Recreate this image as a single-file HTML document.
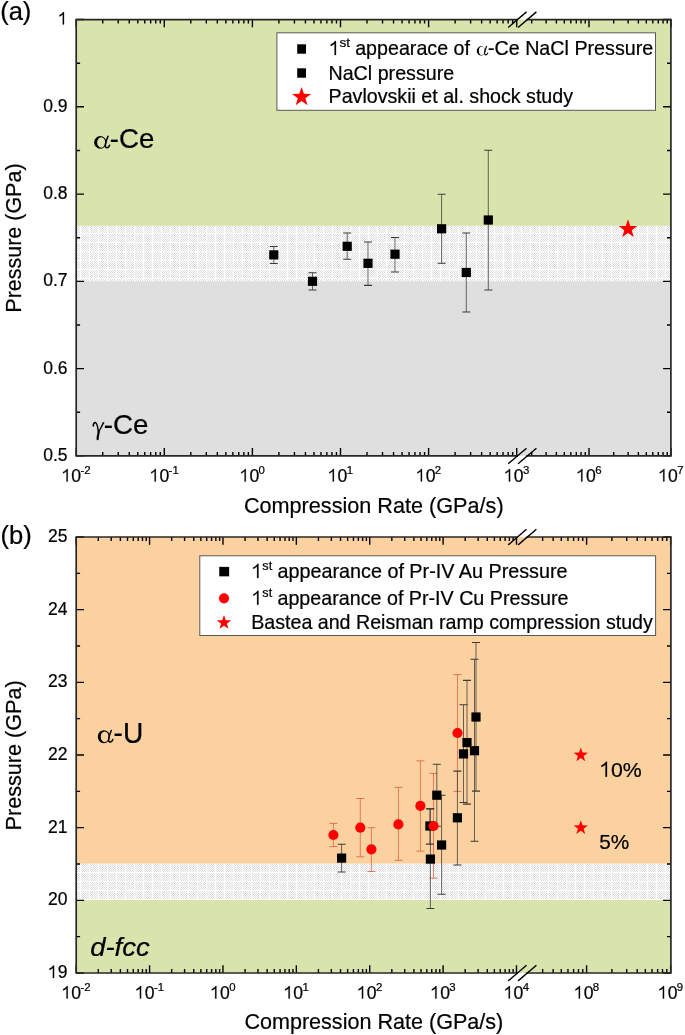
<!DOCTYPE html>
<html><head><meta charset="utf-8"><style>
html,body{margin:0;padding:0;background:#fff;width:685px;height:1035px;overflow:hidden;}
svg{display:block;will-change:transform;}
text{stroke:#000;stroke-width:0.22px;}
</style></head><body>
<svg width="685" height="1035" viewBox="0 0 685 1035" font-family="'Liberation Sans', sans-serif" fill="#000">
<defs><pattern id="hatch" width="9" height="9" patternUnits="userSpaceOnUse">
<rect width="9" height="9" fill="#fff"/>
<path d="M0 0h1v1h-1zM2 0h1v1h-1zM4 0h1v1h-1zM6 0h1v1h-1zM1 1h1v1h-1zM3 1h1v1h-1zM5 1h1v1h-1zM7 1h1v1h-1zM0 2h1v1h-1zM2 2h1v1h-1zM4 2h1v1h-1zM6 2h1v1h-1zM1 3h1v1h-1zM3 3h1v1h-1zM5 3h1v1h-1zM7 3h1v1h-1zM0 4h1v1h-1zM2 4h1v1h-1zM4 4h1v1h-1zM6 4h1v1h-1zM1 5h1v1h-1zM3 5h1v1h-1zM5 5h1v1h-1zM7 5h1v1h-1zM0 6h1v1h-1zM2 6h1v1h-1zM4 6h1v1h-1zM6 6h1v1h-1zM1 7h1v1h-1zM3 7h1v1h-1zM5 7h1v1h-1zM7 7h1v1h-1z" fill="#dddddd"/>
</pattern>
<path id="one" stroke="#000" stroke-width="0.013" d="M0.28 0H0.352V-0.716H0.305C0.26 -0.637 0.175 -0.577 0.085 -0.537V-0.458C0.155 -0.486 0.23 -0.532 0.28 -0.578Z"/></defs>
<rect x="76.2" y="19.55" width="594.70" height="206.35" fill="#d9e4ad"/>
<rect x="76.2" y="225.9" width="594.70" height="55.40" fill="url(#hatch)"/>
<rect x="76.2" y="281.3" width="594.70" height="174.60" fill="#dfdfdf"/>
<rect x="76.2" y="537.0" width="594.70" height="326.80" fill="#fbd29f"/>
<rect x="76.2" y="863.8" width="594.70" height="36.20" fill="url(#hatch)"/>
<rect x="76.2" y="900.0" width="594.70" height="73.00" fill="#d9e4ad"/>
<path d="M273.80 246.50V263.50" stroke="#3a3a3a" stroke-width="0.77" fill="none"/><path d="M269.80 246.50h8M269.80 263.50h8" stroke="#3a3a3a" stroke-width="1.08" fill="none"/>
<path d="M312.50 272.80V290.00" stroke="#3a3a3a" stroke-width="0.77" fill="none"/><path d="M308.50 272.80h8M308.50 290.00h8" stroke="#3a3a3a" stroke-width="1.08" fill="none"/>
<path d="M347.20 233.00V259.20" stroke="#3a3a3a" stroke-width="0.77" fill="none"/><path d="M343.20 233.00h8M343.20 259.20h8" stroke="#3a3a3a" stroke-width="1.08" fill="none"/>
<path d="M368.00 242.00V285.40" stroke="#3a3a3a" stroke-width="0.77" fill="none"/><path d="M364.00 242.00h8M364.00 285.40h8" stroke="#3a3a3a" stroke-width="1.08" fill="none"/>
<path d="M395.00 237.50V272.00" stroke="#3a3a3a" stroke-width="0.77" fill="none"/><path d="M391.00 237.50h8M391.00 272.00h8" stroke="#3a3a3a" stroke-width="1.08" fill="none"/>
<path d="M441.60 194.30V263.30" stroke="#3a3a3a" stroke-width="0.77" fill="none"/><path d="M437.60 194.30h8M437.60 263.30h8" stroke="#3a3a3a" stroke-width="1.08" fill="none"/>
<path d="M466.30 233.00V312.00" stroke="#3a3a3a" stroke-width="0.77" fill="none"/><path d="M462.30 233.00h8M462.30 312.00h8" stroke="#3a3a3a" stroke-width="1.08" fill="none"/>
<path d="M488.30 150.20V290.00" stroke="#3a3a3a" stroke-width="0.77" fill="none"/><path d="M484.30 150.20h8M484.30 290.00h8" stroke="#3a3a3a" stroke-width="1.08" fill="none"/>
<rect x="269.20" y="250.30" width="9.2" height="9.2" fill="#000"/>
<rect x="307.90" y="276.70" width="9.2" height="9.2" fill="#000"/>
<rect x="342.60" y="241.70" width="9.2" height="9.2" fill="#000"/>
<rect x="363.40" y="258.70" width="9.2" height="9.2" fill="#000"/>
<rect x="390.40" y="249.60" width="9.2" height="9.2" fill="#000"/>
<rect x="437.00" y="224.20" width="9.2" height="9.2" fill="#000"/>
<rect x="461.70" y="267.90" width="9.2" height="9.2" fill="#000"/>
<rect x="483.70" y="215.40" width="9.2" height="9.2" fill="#000"/>
<polygon points="628.00,219.30 630.30,225.93 637.32,226.07 631.73,230.31 633.76,237.03 628.00,233.02 622.24,237.03 624.27,230.31 618.68,226.07 625.70,225.93" fill="#f00"/>
<path d="M333.40 823.40V846.60" stroke="#de5038" stroke-width="0.68" fill="none"/><path d="M329.40 823.40h8M329.40 846.60h8" stroke="#de5038" stroke-width="0.75" fill="none"/>
<path d="M360.30 798.50V856.90" stroke="#de5038" stroke-width="0.68" fill="none"/><path d="M356.30 798.50h8M356.30 856.90h8" stroke="#de5038" stroke-width="0.75" fill="none"/>
<path d="M371.40 827.70V871.50" stroke="#de5038" stroke-width="0.68" fill="none"/><path d="M367.40 827.70h8M367.40 871.50h8" stroke="#de5038" stroke-width="0.75" fill="none"/>
<path d="M398.40 787.40V860.30" stroke="#de5038" stroke-width="0.68" fill="none"/><path d="M394.40 787.40h8M394.40 860.30h8" stroke="#de5038" stroke-width="0.75" fill="none"/>
<path d="M420.40 760.90V851.10" stroke="#de5038" stroke-width="0.68" fill="none"/><path d="M416.40 760.90h8M416.40 851.10h8" stroke="#de5038" stroke-width="0.75" fill="none"/>
<path d="M433.50 773.40V878.10" stroke="#de5038" stroke-width="0.68" fill="none"/><path d="M429.50 773.40h8M429.50 878.10h8" stroke="#de5038" stroke-width="0.75" fill="none"/>
<path d="M457.50 674.60V791.40" stroke="#de5038" stroke-width="0.68" fill="none"/><path d="M453.50 674.60h8M453.50 791.40h8" stroke="#de5038" stroke-width="0.75" fill="none"/>
<path d="M341.60 844.20V872.00" stroke="#3a3a3a" stroke-width="0.77" fill="none"/><path d="M337.60 844.20h8M337.60 872.00h8" stroke="#3a3a3a" stroke-width="1.08" fill="none"/>
<path d="M429.90 808.70V844.10" stroke="#3a3a3a" stroke-width="0.77" fill="none"/><path d="M425.90 808.70h8M425.90 844.10h8" stroke="#3a3a3a" stroke-width="1.08" fill="none"/>
<path d="M430.40 808.90V908.50" stroke="#3a3a3a" stroke-width="0.77" fill="none"/><path d="M426.40 808.90h8M426.40 908.50h8" stroke="#3a3a3a" stroke-width="1.08" fill="none"/>
<path d="M436.80 764.20V826.20" stroke="#3a3a3a" stroke-width="0.77" fill="none"/><path d="M432.80 764.20h8M432.80 826.20h8" stroke="#3a3a3a" stroke-width="1.08" fill="none"/>
<path d="M441.60 795.30V894.30" stroke="#3a3a3a" stroke-width="0.77" fill="none"/><path d="M437.60 795.30h8M437.60 894.30h8" stroke="#3a3a3a" stroke-width="1.08" fill="none"/>
<path d="M457.40 771.10V865.00" stroke="#3a3a3a" stroke-width="0.77" fill="none"/><path d="M453.40 771.10h8M453.40 865.00h8" stroke="#3a3a3a" stroke-width="1.08" fill="none"/>
<path d="M463.50 704.80V802.50" stroke="#3a3a3a" stroke-width="0.77" fill="none"/><path d="M459.50 704.80h8M459.50 802.50h8" stroke="#3a3a3a" stroke-width="1.08" fill="none"/>
<path d="M467.00 680.40V804.10" stroke="#3a3a3a" stroke-width="0.77" fill="none"/><path d="M463.00 680.40h8M463.00 804.10h8" stroke="#3a3a3a" stroke-width="1.08" fill="none"/>
<path d="M474.50 659.30V841.30" stroke="#3a3a3a" stroke-width="0.77" fill="none"/><path d="M470.50 659.30h8M470.50 841.30h8" stroke="#3a3a3a" stroke-width="1.08" fill="none"/>
<path d="M476.00 642.50V791.10" stroke="#3a3a3a" stroke-width="0.77" fill="none"/><path d="M472.00 642.50h8M472.00 791.10h8" stroke="#3a3a3a" stroke-width="1.08" fill="none"/>
<rect x="337.00" y="853.50" width="9.2" height="9.2" fill="#000"/>
<rect x="425.30" y="821.40" width="9.2" height="9.2" fill="#000"/>
<rect x="425.80" y="854.50" width="9.2" height="9.2" fill="#000"/>
<rect x="432.20" y="790.60" width="9.2" height="9.2" fill="#000"/>
<rect x="437.00" y="840.40" width="9.2" height="9.2" fill="#000"/>
<rect x="452.80" y="813.20" width="9.2" height="9.2" fill="#000"/>
<rect x="458.90" y="749.30" width="9.2" height="9.2" fill="#000"/>
<rect x="462.40" y="738.00" width="9.2" height="9.2" fill="#000"/>
<rect x="469.90" y="746.10" width="9.2" height="9.2" fill="#000"/>
<rect x="471.40" y="712.40" width="9.2" height="9.2" fill="#000"/>
<circle cx="333.4" cy="835.0" r="5.1" fill="#f00"/>
<circle cx="360.3" cy="827.7" r="5.1" fill="#f00"/>
<circle cx="371.4" cy="849.3" r="5.1" fill="#f00"/>
<circle cx="398.4" cy="824.4" r="5.1" fill="#f00"/>
<circle cx="420.4" cy="805.8" r="5.1" fill="#f00"/>
<circle cx="433.5" cy="826.0" r="5.1" fill="#f00"/>
<circle cx="457.5" cy="733.0" r="5.1" fill="#f00"/>
<polygon points="580.80,747.50 582.58,752.61 587.98,752.72 583.67,755.98 585.24,761.16 580.80,758.07 576.36,761.16 577.93,755.98 573.62,752.72 579.02,752.61" fill="#f00"/>
<polygon points="580.80,820.25 582.58,825.36 587.98,825.47 583.67,828.73 585.24,833.91 580.80,830.82 576.36,833.91 577.93,828.73 573.62,825.47 579.02,825.36" fill="#f00"/>
<path d="M76.20 455.90V448.10M76.20 19.55V27.35M102.72 455.90V452.00M102.72 19.55V23.45M118.23 455.90V452.00M118.23 19.55V23.45M129.24 455.90V452.00M129.24 19.55V23.45M137.78 455.90V452.00M137.78 19.55V23.45M144.76 455.90V452.00M144.76 19.55V23.45M150.65 455.90V452.00M150.65 19.55V23.45M155.76 455.90V452.00M155.76 19.55V23.45M160.27 455.90V452.00M160.27 19.55V23.45M164.30 455.90V448.10M164.30 19.55V27.35M190.82 455.90V452.00M190.82 19.55V23.45M206.33 455.90V452.00M206.33 19.55V23.45M217.34 455.90V452.00M217.34 19.55V23.45M225.88 455.90V452.00M225.88 19.55V23.45M232.86 455.90V452.00M232.86 19.55V23.45M238.75 455.90V452.00M238.75 19.55V23.45M243.86 455.90V452.00M243.86 19.55V23.45M248.37 455.90V452.00M248.37 19.55V23.45M252.40 455.90V448.10M252.40 19.55V27.35M278.92 455.90V452.00M278.92 19.55V23.45M294.43 455.90V452.00M294.43 19.55V23.45M305.44 455.90V452.00M305.44 19.55V23.45M313.98 455.90V452.00M313.98 19.55V23.45M320.96 455.90V452.00M320.96 19.55V23.45M326.85 455.90V452.00M326.85 19.55V23.45M331.96 455.90V452.00M331.96 19.55V23.45M336.47 455.90V452.00M336.47 19.55V23.45M340.50 455.90V448.10M340.50 19.55V27.35M367.02 455.90V452.00M367.02 19.55V23.45M382.53 455.90V452.00M382.53 19.55V23.45M393.54 455.90V452.00M393.54 19.55V23.45M402.08 455.90V452.00M402.08 19.55V23.45M409.06 455.90V452.00M409.06 19.55V23.45M414.95 455.90V452.00M414.95 19.55V23.45M420.06 455.90V452.00M420.06 19.55V23.45M424.57 455.90V452.00M424.57 19.55V23.45M428.60 455.90V448.10M428.60 19.55V27.35M455.12 455.90V452.00M455.12 19.55V23.45M470.63 455.90V452.00M470.63 19.55V23.45M481.64 455.90V452.00M481.64 19.55V23.45M490.18 455.90V452.00M490.18 19.55V23.45M497.16 455.90V452.00M497.16 19.55V23.45M503.05 455.90V452.00M503.05 19.55V23.45M508.16 455.90V452.00M508.16 19.55V23.45M512.67 455.90V452.00M512.67 19.55V23.45M516.70 455.90V448.10M516.70 19.55V27.35M531.68 455.90V452.00M531.68 19.55V23.45M546.12 455.90V452.00M546.12 19.55V23.45M556.37 455.90V452.00M556.37 19.55V23.45M564.32 455.90V452.00M564.32 19.55V23.45M570.81 455.90V452.00M570.81 19.55V23.45M576.30 455.90V452.00M576.30 19.55V23.45M581.05 455.90V452.00M581.05 19.55V23.45M585.25 455.90V452.00M585.25 19.55V23.45M589.00 455.90V448.10M589.00 19.55V27.35M613.68 455.90V452.00M613.68 19.55V23.45M628.12 455.90V452.00M628.12 19.55V23.45M638.37 455.90V452.00M638.37 19.55V23.45M646.32 455.90V452.00M646.32 19.55V23.45M652.81 455.90V452.00M652.81 19.55V23.45M658.30 455.90V452.00M658.30 19.55V23.45M663.05 455.90V452.00M663.05 19.55V23.45M667.25 455.90V452.00M667.25 19.55V23.45M671.00 455.90V448.10M671.00 19.55V27.35M76.20 455.90H84.00M670.90 455.90H663.10M76.20 412.26H80.10M670.90 412.26H667.00M76.20 368.63H84.00M670.90 368.63H663.10M76.20 324.99H80.10M670.90 324.99H667.00M76.20 281.36H84.00M670.90 281.36H663.10M76.20 237.72H80.10M670.90 237.72H667.00M76.20 194.09H84.00M670.90 194.09H663.10M76.20 150.45H80.10M670.90 150.45H667.00M76.20 106.82H84.00M670.90 106.82H663.10M76.20 63.18H80.10M670.90 63.18H667.00M76.20 19.55H84.00M670.90 19.55H663.10" stroke="#000" stroke-width="1.4" fill="none"/>
<path d="M517.2 19.55H76.2V455.9H517.2M527.2 455.9H670.9V19.55H527.2" stroke="#282828" stroke-width="1.7" fill="none" stroke-linecap="square"/>
<line x1="508.2" y1="27.5" x2="526.5" y2="11.9" stroke="#000" stroke-width="1.4"/>
<line x1="518.1" y1="27.5" x2="536.4" y2="11.9" stroke="#000" stroke-width="1.4"/>
<line x1="508.2" y1="463.8" x2="526.5" y2="448.2" stroke="#000" stroke-width="1.4"/>
<line x1="518.1" y1="463.8" x2="536.4" y2="448.2" stroke="#000" stroke-width="1.4"/>
<path d="M76.20 973.00V965.20M76.20 537.00V544.80M98.29 973.00V969.10M98.29 537.00V540.90M111.21 973.00V969.10M111.21 537.00V540.90M120.38 973.00V969.10M120.38 537.00V540.90M127.49 973.00V969.10M127.49 537.00V540.90M133.30 973.00V969.10M133.30 537.00V540.90M138.21 973.00V969.10M138.21 537.00V540.90M142.47 973.00V969.10M142.47 537.00V540.90M146.22 973.00V969.10M146.22 537.00V540.90M149.58 973.00V965.20M149.58 537.00V544.80M171.67 973.00V969.10M171.67 537.00V540.90M184.59 973.00V969.10M184.59 537.00V540.90M193.76 973.00V969.10M193.76 537.00V540.90M200.87 973.00V969.10M200.87 537.00V540.90M206.68 973.00V969.10M206.68 537.00V540.90M211.59 973.00V969.10M211.59 537.00V540.90M215.85 973.00V969.10M215.85 537.00V540.90M219.60 973.00V969.10M219.60 537.00V540.90M222.96 973.00V965.20M222.96 537.00V544.80M245.05 973.00V969.10M245.05 537.00V540.90M257.97 973.00V969.10M257.97 537.00V540.90M267.14 973.00V969.10M267.14 537.00V540.90M274.25 973.00V969.10M274.25 537.00V540.90M280.06 973.00V969.10M280.06 537.00V540.90M284.97 973.00V969.10M284.97 537.00V540.90M289.23 973.00V969.10M289.23 537.00V540.90M292.98 973.00V969.10M292.98 537.00V540.90M296.34 973.00V965.20M296.34 537.00V544.80M318.43 973.00V969.10M318.43 537.00V540.90M331.35 973.00V969.10M331.35 537.00V540.90M340.52 973.00V969.10M340.52 537.00V540.90M347.63 973.00V969.10M347.63 537.00V540.90M353.44 973.00V969.10M353.44 537.00V540.90M358.35 973.00V969.10M358.35 537.00V540.90M362.61 973.00V969.10M362.61 537.00V540.90M366.36 973.00V969.10M366.36 537.00V540.90M369.72 973.00V965.20M369.72 537.00V544.80M391.81 973.00V969.10M391.81 537.00V540.90M404.73 973.00V969.10M404.73 537.00V540.90M413.90 973.00V969.10M413.90 537.00V540.90M421.01 973.00V969.10M421.01 537.00V540.90M426.82 973.00V969.10M426.82 537.00V540.90M431.73 973.00V969.10M431.73 537.00V540.90M435.99 973.00V969.10M435.99 537.00V540.90M439.74 973.00V969.10M439.74 537.00V540.90M443.10 973.00V965.20M443.10 537.00V544.80M465.19 973.00V969.10M465.19 537.00V540.90M478.11 973.00V969.10M478.11 537.00V540.90M487.28 973.00V969.10M487.28 537.00V540.90M494.39 973.00V969.10M494.39 537.00V540.90M500.20 973.00V969.10M500.20 537.00V540.90M505.11 973.00V969.10M505.11 537.00V540.90M509.37 973.00V969.10M509.37 537.00V540.90M513.12 973.00V969.10M513.12 537.00V540.90M516.48 973.00V965.20M516.48 537.00V544.80M542.65 973.00V969.10M542.65 537.00V540.90M553.15 973.00V969.10M553.15 537.00V540.90M561.30 973.00V969.10M561.30 537.00V540.90M567.95 973.00V969.10M567.95 537.00V540.90M573.58 973.00V969.10M573.58 537.00V540.90M578.45 973.00V969.10M578.45 537.00V540.90M582.75 973.00V969.10M582.75 537.00V540.90M586.60 973.00V965.20M586.60 537.00V544.80M611.90 973.00V969.10M611.90 537.00V540.90M626.70 973.00V969.10M626.70 537.00V540.90M637.20 973.00V969.10M637.20 537.00V540.90M645.35 973.00V969.10M645.35 537.00V540.90M652.00 973.00V969.10M652.00 537.00V540.90M657.63 973.00V969.10M657.63 537.00V540.90M662.50 973.00V969.10M662.50 537.00V540.90M666.80 973.00V969.10M666.80 537.00V540.90M670.65 973.00V965.20M670.65 537.00V544.80M76.20 973.00H84.00M670.90 973.00H663.10M76.20 936.67H80.10M670.90 936.67H667.00M76.20 900.33H84.00M670.90 900.33H663.10M76.20 864.00H80.10M670.90 864.00H667.00M76.20 827.67H84.00M670.90 827.67H663.10M76.20 791.33H80.10M670.90 791.33H667.00M76.20 755.00H84.00M670.90 755.00H663.10M76.20 718.67H80.10M670.90 718.67H667.00M76.20 682.33H84.00M670.90 682.33H663.10M76.20 646.00H80.10M670.90 646.00H667.00M76.20 609.67H84.00M670.90 609.67H663.10M76.20 573.33H80.10M670.90 573.33H667.00M76.20 537.00H84.00M670.90 537.00H663.10" stroke="#000" stroke-width="1.4" fill="none"/>
<path d="M517.2 537.0H76.2V973.0H517.2M527.2 973.0H670.9V537.0H527.2" stroke="#282828" stroke-width="1.7" fill="none" stroke-linecap="square"/>
<line x1="508.2" y1="544.9" x2="526.5" y2="529.3" stroke="#000" stroke-width="1.4"/>
<line x1="518.1" y1="544.9" x2="536.4" y2="529.3" stroke="#000" stroke-width="1.4"/>
<line x1="508.2" y1="980.9" x2="526.5" y2="965.3" stroke="#000" stroke-width="1.4"/>
<line x1="518.1" y1="980.9" x2="536.4" y2="965.3" stroke="#000" stroke-width="1.4"/>
<text x="0.17" y="20.30" font-size="25" textLength="31.22" lengthAdjust="spacingAndGlyphs" >(a)</text>
<text x="0.41" y="543.60" font-size="25" textLength="31.28" lengthAdjust="spacingAndGlyphs" >(b)</text>
<use href="#one" transform="translate(57.87 24.55) scale(17.5)"/>
<text x="67.6" y="111.82" font-size="17.5" text-anchor="end">0.9</text>
<text x="67.6" y="199.09" font-size="17.5" text-anchor="end">0.8</text>
<text x="67.6" y="286.36" font-size="17.5" text-anchor="end">0.7</text>
<text x="67.6" y="373.63" font-size="17.5" text-anchor="end">0.6</text>
<text x="67.6" y="460.90" font-size="17.5" text-anchor="end">0.5</text>
<use href="#one" transform="translate(47.94 978.00) scale(17.5)"/>
<text x="67.4" y="978.00" font-size="17.5" text-anchor="end">9</text>
<text x="67.4" y="905.33" font-size="17.5" text-anchor="end">20</text>
<text x="67.4" y="832.67" font-size="17.5" text-anchor="end">21</text>
<text x="67.4" y="760.00" font-size="17.5" text-anchor="end">22</text>
<text x="67.4" y="687.33" font-size="17.5" text-anchor="end">23</text>
<text x="67.4" y="614.67" font-size="17.5" text-anchor="end">24</text>
<text x="67.4" y="542.00" font-size="17.5" text-anchor="end">25</text>
<use href="#one" transform="translate(61.55 481.50) scale(17.6)"/>
<text x="71.33" y="481.50" font-size="17.6">0</text>
<text x="80.52" y="474.10" font-size="11.4">-2</text>
<use href="#one" transform="translate(149.65 481.50) scale(17.6)"/>
<text x="159.43" y="481.50" font-size="17.6">0</text>
<text x="168.62" y="474.10" font-size="11.4">-1</text>
<use href="#one" transform="translate(239.64 481.50) scale(17.6)"/>
<text x="249.43" y="481.50" font-size="17.6">0</text>
<text x="258.62" y="474.10" font-size="11.4">0</text>
<use href="#one" transform="translate(327.74 481.50) scale(17.6)"/>
<text x="337.53" y="481.50" font-size="17.6">0</text>
<text x="346.72" y="474.10" font-size="11.4">1</text>
<use href="#one" transform="translate(415.84 481.50) scale(17.6)"/>
<text x="425.63" y="481.50" font-size="17.6">0</text>
<text x="434.82" y="474.10" font-size="11.4">2</text>
<use href="#one" transform="translate(503.94 481.50) scale(17.6)"/>
<text x="513.73" y="481.50" font-size="17.6">0</text>
<text x="522.92" y="474.10" font-size="11.4">3</text>
<use href="#one" transform="translate(576.24 481.50) scale(17.6)"/>
<text x="586.03" y="481.50" font-size="17.6">0</text>
<text x="595.22" y="474.10" font-size="11.4">6</text>
<use href="#one" transform="translate(658.24 481.50) scale(17.6)"/>
<text x="668.03" y="481.50" font-size="17.6">0</text>
<text x="677.22" y="474.10" font-size="11.4">7</text>
<use href="#one" transform="translate(61.55 998.60) scale(17.6)"/>
<text x="71.33" y="998.60" font-size="17.6">0</text>
<text x="80.52" y="991.20" font-size="11.4">-2</text>
<use href="#one" transform="translate(134.93 998.60) scale(17.6)"/>
<text x="144.71" y="998.60" font-size="17.6">0</text>
<text x="153.90" y="991.20" font-size="11.4">-1</text>
<use href="#one" transform="translate(210.20 998.60) scale(17.6)"/>
<text x="219.99" y="998.60" font-size="17.6">0</text>
<text x="229.18" y="991.20" font-size="11.4">0</text>
<use href="#one" transform="translate(283.58 998.60) scale(17.6)"/>
<text x="293.37" y="998.60" font-size="17.6">0</text>
<text x="302.56" y="991.20" font-size="11.4">1</text>
<use href="#one" transform="translate(356.96 998.60) scale(17.6)"/>
<text x="366.75" y="998.60" font-size="17.6">0</text>
<text x="375.94" y="991.20" font-size="11.4">2</text>
<use href="#one" transform="translate(430.34 998.60) scale(17.6)"/>
<text x="440.13" y="998.60" font-size="17.6">0</text>
<text x="449.32" y="991.20" font-size="11.4">3</text>
<use href="#one" transform="translate(503.72 998.60) scale(17.6)"/>
<text x="513.51" y="998.60" font-size="17.6">0</text>
<text x="522.70" y="991.20" font-size="11.4">4</text>
<use href="#one" transform="translate(573.84 998.60) scale(17.6)"/>
<text x="583.63" y="998.60" font-size="17.6">0</text>
<text x="592.82" y="991.20" font-size="11.4">8</text>
<use href="#one" transform="translate(657.89 998.60) scale(17.6)"/>
<text x="667.68" y="998.60" font-size="17.6">0</text>
<text x="676.87" y="991.20" font-size="11.4">9</text>
<text x="243.90" y="512.80" font-size="22.0" textLength="259.74" lengthAdjust="spacingAndGlyphs" >Compression Rate (GPa/s)</text>
<text x="244.40" y="1028.70" font-size="22.0" textLength="258.84" lengthAdjust="spacingAndGlyphs" >Compression Rate (GPa/s)</text>
<text transform="rotate(-90)" x="-312.66" y="21.00" font-size="22.0" textLength="149.20" lengthAdjust="spacingAndGlyphs">Pressure (GPa)</text>
<text transform="rotate(-90)" x="-830.47" y="21.00" font-size="22.0" textLength="150.12" lengthAdjust="spacingAndGlyphs">Pressure (GPa)</text>
<path d="M94.10 142.39A6.20 6.27 0 1 0 106.50 142.39A6.20 6.27 0 1 0 94.10 142.39ZM97.14 142.39A4.08 5.25 0 1 0 105.30 142.39A4.08 5.25 0 1 0 97.14 142.39Z" fill="#000" fill-rule="evenodd"/>
<path d="M108.02 136.18C106.58 139.64 104.98 143.48 105.30 146.04C105.62 148.47 108.50 148.34 109.62 145.27" fill="none" stroke="#000" stroke-width="1.55" stroke-linecap="round"/>
<text x="109.78" y="148.30" font-size="28.5" textLength="44.54" lengthAdjust="spacingAndGlyphs" >-Ce</text>
<path d="M93.3 426.0C93.2 423.7 94.2 422.5 95.3 422.5C97.0 422.7 97.7 426.2 98.5 431.8" fill="none" stroke="#000" stroke-width="1.6" stroke-linecap="round"/>
<path d="M102.9 421.9L104.5 422.5L99.1 432.4L98.2 431.9Z" fill="#000"/>
<path d="M98.6 432C98.5 435 97.3 437 97.7 439.1" fill="none" stroke="#000" stroke-width="2.2" stroke-linecap="round"/>
<text x="103.68" y="434.30" font-size="28.0" textLength="44.75" lengthAdjust="spacingAndGlyphs" >-Ce</text>
<path d="M97.80 736.69A6.01 6.27 0 1 0 109.81 736.69A6.01 6.27 0 1 0 97.80 736.69ZM100.74 736.69A3.95 5.25 0 1 0 108.65 736.69A3.95 5.25 0 1 0 100.74 736.69Z" fill="#000" fill-rule="evenodd"/>
<path d="M111.28 730.48C109.89 733.94 108.34 737.78 108.65 740.34C108.96 742.77 111.75 742.64 112.83 739.57" fill="none" stroke="#000" stroke-width="1.50" stroke-linecap="round"/>
<text x="113.56" y="743.10" font-size="28.8" textLength="29.71" lengthAdjust="spacingAndGlyphs" >-U</text>
<text x="90.17" y="955.60" font-size="25.0" textLength="59.54" lengthAdjust="spacingAndGlyphs" font-style="italic" >d-fcc</text>
<use href="#one" transform="translate(599.60 776.70) scale(21.0)"/>
<text x="610.97" y="776.70" font-size="21.0" textLength="30.78" lengthAdjust="spacingAndGlyphs" >0%</text>
<text x="599.27" y="849.00" font-size="21.0" textLength="30.07" lengthAdjust="spacingAndGlyphs" >5%</text>
<rect x="276.9" y="32.8" width="378.6" height="77.5" fill="#fff" stroke="#585858" stroke-width="1"/>
<rect x="297.20" y="44.30" width="8.8" height="9.4" fill="#000"/>
<rect x="297.20" y="68.30" width="8.8" height="9.4" fill="#000"/>
<polygon points="301.60,87.10 303.95,93.86 311.11,94.01 305.40,98.34 307.48,105.19 301.60,101.10 295.72,105.19 297.80,98.34 292.09,94.01 299.25,93.86" fill="#f00"/>
<use href="#one" transform="translate(329.10 55.00) scale(19.6)"/>
<text x="339.52" y="47.40" font-size="12.8" textLength="10.57" lengthAdjust="spacingAndGlyphs" >st</text>
<text x="355.17" y="54.90" font-size="20.2" textLength="114.80" lengthAdjust="spacingAndGlyphs" >appearace of</text>
<path d="M476.80 50.94A4.34 4.61 0 1 0 485.48 50.94A4.34 4.61 0 1 0 476.80 50.94ZM478.93 50.94A2.86 3.85 0 1 0 484.64 50.94A2.86 3.85 0 1 0 478.93 50.94Z" fill="#000" fill-rule="evenodd"/>
<path d="M486.54 46.38C485.54 48.92 484.42 51.74 484.64 53.62C484.86 55.41 486.88 55.31 487.66 53.06" fill="none" stroke="#000" stroke-width="1.08" stroke-linecap="round"/>
<text x="487.93" y="54.90" font-size="20.2" textLength="165.34" lengthAdjust="spacingAndGlyphs" >-Ce NaCl Pressure</text>
<text x="328.49" y="79.70" font-size="20.2" textLength="125.68" lengthAdjust="spacingAndGlyphs" >NaCl pressure</text>
<text x="328.59" y="103.40" font-size="20.2" textLength="244.44" lengthAdjust="spacingAndGlyphs" >Pavlovskii et al. shock study</text>
<rect x="199.8" y="555.8" width="455.8" height="79.7" fill="#fff" stroke="#585858" stroke-width="1"/>
<rect x="219.25" y="566.85" width="9.9" height="9.5" fill="#000"/>
<circle cx="224.0" cy="598.3" r="5.1" fill="#f00"/>
<polygon points="224.00,615.10 225.79,620.24 231.23,620.35 226.89,623.64 228.47,628.85 224.00,625.74 219.53,628.85 221.11,623.64 216.77,620.35 222.21,620.24" fill="#f00"/>
<use href="#one" transform="translate(251.60 577.90) scale(19.6)"/>
<text x="262.35" y="569.80" font-size="12.8" textLength="9.84" lengthAdjust="spacingAndGlyphs" >st</text>
<text x="277.47" y="577.90" font-size="20.2" textLength="290.10" lengthAdjust="spacingAndGlyphs" >appearance of Pr-IV Au Pressure</text>
<use href="#one" transform="translate(251.60 604.70) scale(19.6)"/>
<text x="262.35" y="596.60" font-size="12.8" textLength="9.84" lengthAdjust="spacingAndGlyphs" >st</text>
<text x="277.47" y="604.70" font-size="20.2" textLength="291.10" lengthAdjust="spacingAndGlyphs" >appearance of Pr-IV Cu Pressure</text>
<text x="251.19" y="629.00" font-size="20.2" textLength="401.65" lengthAdjust="spacingAndGlyphs" >Bastea and Reisman ramp compression study</text>
</svg>
</body></html>
